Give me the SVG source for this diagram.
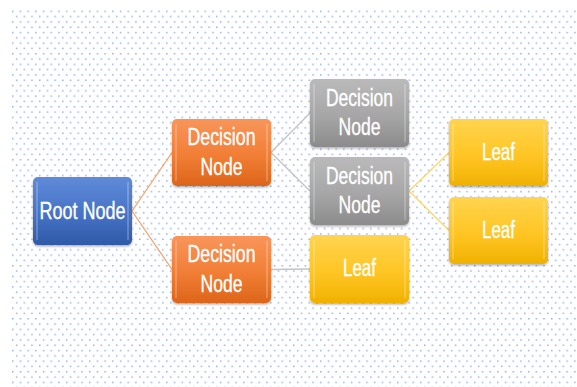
<svg xmlns="http://www.w3.org/2000/svg" width="577" height="387" viewBox="0 0 577 387">
  <defs>
    <!-- staggered dot grid for the backdrop -->
    <pattern id="dots" x="12" y="10.6" width="7.7" height="10.6" patternUnits="userSpaceOnUse">
      <rect x="0" y="0" width="1.5" height="1.5" fill="#94b2e6"/>
      <rect x="3.85" y="5.3" width="1.5" height="1.5" fill="#94b2e6"/>
    </pattern>
    <linearGradient id="gBlue" x1="0" y1="0" x2="0" y2="1">
      <stop offset="0" stop-color="#5f8bd8"/>
      <stop offset="0.55" stop-color="#4672c6"/>
      <stop offset="1" stop-color="#2f5aa6"/>
    </linearGradient>
    <linearGradient id="gOrange" x1="0" y1="0" x2="0" y2="1">
      <stop offset="0" stop-color="#f9955a"/>
      <stop offset="0.55" stop-color="#f17e35"/>
      <stop offset="1" stop-color="#dc6519"/>
    </linearGradient>
    <linearGradient id="gGray" x1="0" y1="0" x2="0" y2="1">
      <stop offset="0" stop-color="#bababa"/>
      <stop offset="0.55" stop-color="#a6a6a6"/>
      <stop offset="1" stop-color="#8b8b8b"/>
    </linearGradient>
    <linearGradient id="gYellow" x1="0" y1="0" x2="0" y2="1">
      <stop offset="0" stop-color="#ffd44f"/>
      <stop offset="0.55" stop-color="#ffc524"/>
      <stop offset="1" stop-color="#f0b100"/>
    </linearGradient>
    <filter id="shadow" x="-10%" y="-10%" width="120%" height="130%">
      <feDropShadow dx="0" dy="1.5" stdDeviation="1.2" flood-color="#000" flood-opacity="0.3"/>
    </filter>
    <style>
      .box { filter: url(#shadow); }
      .blue { fill: url(#gBlue); }
      .orange { fill: url(#gOrange); }
      .gray { fill: url(#gGray); }
      .yellow { fill: url(#gYellow); }
      .hl { fill: none; stroke: #ffffff; stroke-opacity: 0.35; stroke-width: 1.2; }
      .lbl { font-family: "Liberation Sans", Arial, sans-serif; font-size: 23px; fill: #ffffff; stroke: #ffffff; stroke-width: 0.35; text-anchor: middle; }
      .edge { fill: none; stroke-width: 1.3; }
      .e-or { stroke: #f5a46c; }
      .e-gr { stroke: #c4c4c4; }
      .e-ye { stroke: #ffd768; }
    </style>
  </defs>

  <rect x="0" y="0" width="577" height="387" fill="#ffffff"/>
  <rect x="11" y="9" width="566" height="378" fill="url(#dots)"/>

  <g id="connectors">
    <path class="edge e-or" d="M132,211 L172,152.5"/>
    <path class="edge e-or" d="M132,211 L172,269.5"/>
    <path class="edge e-gr" d="M271,152.5 L310,113"/>
    <path class="edge e-gr" d="M271,152.5 L310,191"/>
    <path class="edge e-gr" d="M271,269.5 L310,269" stroke="#b3b3b3"/>
    <path class="edge e-ye" d="M409,191 L449,152.5"/>
    <path class="edge e-ye" d="M409,191 L449,230.5"/>
  </g>

  <g id="root">
    <rect class="box blue" x="33" y="177" width="99" height="68" rx="5"/>
    <path class="hl" d="M37,182 V240 M128,182 V240"/>
    <text class="lbl" x="82.5" y="219" textLength="86" lengthAdjust="spacingAndGlyphs">Root Node</text>
  </g>

  <g id="decision-upper">
    <rect class="box orange" x="172" y="119" width="99" height="67" rx="5"/>
    <path class="hl" d="M176,124 V181 M267,124 V181" stroke="#ffe08a" stroke-opacity="0.6"/>
    <text class="lbl" x="221.5" y="145" textLength="68" lengthAdjust="spacingAndGlyphs">Decision</text>
    <text class="lbl" x="221.5" y="175" textLength="42" lengthAdjust="spacingAndGlyphs">Node</text>
  </g>

  <g id="decision-lower">
    <rect class="box orange" x="172" y="236" width="99" height="67" rx="5"/>
    <path class="hl" d="M176,241 V298 M267,241 V298" stroke="#ffe08a" stroke-opacity="0.6"/>
    <text class="lbl" x="221.5" y="262" textLength="68" lengthAdjust="spacingAndGlyphs">Decision</text>
    <text class="lbl" x="221.5" y="292" textLength="42" lengthAdjust="spacingAndGlyphs">Node</text>
  </g>

  <g id="decision-gray-upper">
    <rect class="box gray" x="310" y="79" width="99" height="68" rx="5"/>
    <path class="hl" d="M314,84 V142 M405,84 V142"/>
    <text class="lbl" x="359.5" y="106" textLength="67" lengthAdjust="spacingAndGlyphs">Decision</text>
    <text class="lbl" x="359.5" y="135" textLength="42" lengthAdjust="spacingAndGlyphs">Node</text>
  </g>

  <g id="decision-gray-lower">
    <rect class="box gray" x="310" y="157" width="99" height="68" rx="5"/>
    <path class="hl" d="M314,162 V220 M405,162 V220"/>
    <text class="lbl" x="359.5" y="184" textLength="67" lengthAdjust="spacingAndGlyphs">Decision</text>
    <text class="lbl" x="359.5" y="213" textLength="42" lengthAdjust="spacingAndGlyphs">Node</text>
  </g>

  <g id="leaf-top">
    <rect class="box yellow" x="449" y="119" width="99" height="67" rx="5"/>
    <path class="hl" d="M453,124 V181 M544,124 V181"/>
    <text class="lbl" x="498.5" y="160" textLength="33" lengthAdjust="spacingAndGlyphs">Leaf</text>
  </g>

  <g id="leaf-middle">
    <rect class="box yellow" x="449" y="197" width="99" height="67" rx="5"/>
    <path class="hl" d="M453,202 V259 M544,202 V259"/>
    <text class="lbl" x="498.5" y="238" textLength="33" lengthAdjust="spacingAndGlyphs">Leaf</text>
  </g>

  <g id="leaf-bottom">
    <rect class="box yellow" x="310" y="235" width="99" height="68" rx="5"/>
    <path class="hl" d="M314,240 V298 M405,240 V298"/>
    <text class="lbl" x="359.5" y="276" textLength="33" lengthAdjust="spacingAndGlyphs">Leaf</text>
  </g>
</svg>
